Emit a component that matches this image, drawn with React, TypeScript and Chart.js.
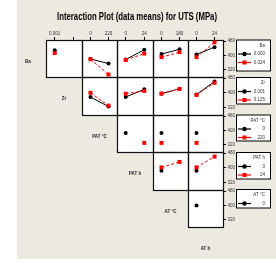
import React, { useEffect, useRef } from "react";
import { Chart, registerables } from "chart.js";
Chart.register(...registerables);

// ---------- data ----------
const chartTitle = "Interaction Plot (data means) for UTS (MPa)";
const rowLabels = ["Ba", "Zr", "PAT °C", "PAT h", "AT °C", "AT h"];
const legendTitles = ["Ba", "Zr", "PAT °C", "PAT h", "AT °C"];
const legendLevels = [["0.000", "0.024"], ["0.001", "0.125"], ["0", "220"], ["0", "24"], ["0"]];
// x tick labels for columns (Zr, PAT °C, PAT h, AT °C, AT h)
const xTickLabels = [["0.001", ""], ["0", "220"], ["0", "24"], ["0", "180"], ["0", "24"]];
const yTicks = [320, 400, 480];

// row Ba (black = 0.000, red = 0.024)
const baZrBlack = [428, null];
const baZrRed = [413, null];
const baPatcBlack = [380, 354];
const baPatcRed = [378, 293];
const baPathBlack = [377, 431];
const baPathRed = [374, 410];
const baAtcBlack = [407, 434];
const baAtcRed = [390, 418];
const baAthBlack = [405, 446];
const baAthRed = [390, 473];
// row Zr (black = 0.001, red = 0.125)
const zrPatcBlack = [377, 325];
const zrPatcRed = [400, 330];
const zrPathBlack = [377, 419];
const zrPathRed = [395, 410];
const zrAtcBlack = [395, 422];
const zrAtcRed = [396, 421];
const zrAthBlack = [391, 461];
const zrAthRed = [388, 454];
// row PAT °C (black = 0, red = 220)
const patcPathBlack = [385, null];
const patcPathRed = [null, 330];
const patcAtcBlack = [385, null];
const patcAtcRed = [330, null];
const patcAthBlack = [385, null];
const patcAthRed = [330, null];
// row PAT h (black = 0, red = 24)
const pathAtcBlack = [384, null];
const pathAtcRed = [402, 432];
const pathAthBlack = [384, null];
const pathAthRed = [402, 461];
// row AT °C (black = 0)
const atcAthBlack = [399, null];
const atcAthRed: (number | null)[] = [null, null];

const cellSeries: { r: number; c: number; black: (number | null)[]; red: (number | null)[] }[] = [
  { r: 0, c: 0, black: baZrBlack, red: baZrRed },
  { r: 0, c: 1, black: baPatcBlack, red: baPatcRed },
  { r: 0, c: 2, black: baPathBlack, red: baPathRed },
  { r: 0, c: 3, black: baAtcBlack, red: baAtcRed },
  { r: 0, c: 4, black: baAthBlack, red: baAthRed },
  { r: 1, c: 1, black: zrPatcBlack, red: zrPatcRed },
  { r: 1, c: 2, black: zrPathBlack, red: zrPathRed },
  { r: 1, c: 3, black: zrAtcBlack, red: zrAtcRed },
  { r: 1, c: 4, black: zrAthBlack, red: zrAthRed },
  { r: 2, c: 2, black: patcPathBlack, red: patcPathRed },
  { r: 2, c: 3, black: patcAtcBlack, red: patcAtcRed },
  { r: 2, c: 4, black: patcAthBlack, red: patcAthRed },
  { r: 3, c: 3, black: pathAtcBlack, red: pathAtcRed },
  { r: 3, c: 4, black: pathAthBlack, red: pathAthRed },
  { r: 4, c: 4, black: atcAthBlack, red: atcAthRed },
];

// ---------- layout ----------
const W = 276;
const H = 267;
const BG = "#ece9e0";
const colX = [46, 82, 117, 153, 188, 223];
const rowY = [40, 77, 115, 152, 190, 227];
const Y_MIN = 279;
const Y_MAX = 486;
const X_MIN = -0.47;
const X_MAX = 1.47;
const TOP_AXIS = 12;
const RIGHT_AXIS = 14;
const VPAD = 5;
const FONT = '"Liberation Sans", Arial, sans-serif';

const toPts = (arr: (number | null)[]) =>
  arr.map((v, i) => (v === null ? null : { x: i, y: v })).filter((p) => p !== null) as { x: number; y: number }[];

function Cell({ r, c, black, red }: { r: number; c: number; black: (number | null)[]; red: (number | null)[] }) {
  const ref = useRef<HTMLCanvasElement>(null);
  const isTop = r === 0;
  const isRight = c === 4;
  const x0 = colX[c];
  const x1 = colX[c + 1];
  const y0 = rowY[r];
  const y1 = rowY[r + 1];
  const extraTop = isTop ? TOP_AXIS : isRight ? VPAD : 0;
  const extraBottom = isRight ? VPAD : 0;
  const extraRight = isRight ? RIGHT_AXIS : 0;
  const cw = x1 - x0 + extraRight;
  const ch = y1 - y0 + extraTop + extraBottom;

  useEffect(() => {
    const canvas = ref.current!;
    const labels = xTickLabels[c];
    const chart = new Chart(canvas, {
      type: "line",
      data: {
        datasets: [
          {
            data: toPts(red),
            borderColor: "#ff0000",
            backgroundColor: "#ff0000",
            borderWidth: 1,
            borderDash: [3, 2],
            pointStyle: "rect",
            pointRadius: 2.8,
            pointBorderWidth: 0,
            spanGaps: false,
          },
          {
            data: toPts(black),
            borderColor: "#000000",
            backgroundColor: "#000000",
            borderWidth: 1,
            pointStyle: "circle",
            pointRadius: 2,
            pointBorderWidth: 0,
            spanGaps: false,
          },
        ],
      },
      options: {
        responsive: false,
        animation: false,
        events: [],
        layout: {
          autoPadding: false,
          padding: { top: isTop ? 0 : extraTop, bottom: extraBottom, left: 0, right: 0 },
        },
        plugins: { legend: { display: false }, tooltip: { enabled: false }, title: { display: false } },
        scales: {
          x: {
            type: "linear",
            position: "top",
            display: isTop,
            min: X_MIN,
            max: X_MAX,
            afterBuildTicks: (s: any) => {
              s.ticks = [{ value: 0 }, { value: 1 }];
            },
            afterFit: (s: any) => {
              if (isTop) s.height = TOP_AXIS;
            },
            ticks: {
              callback: (v: any) => labels[v as number] ?? "",
              font: { size: 4.5, family: FONT },
              color: "#333",
              padding: 1,
              maxRotation: 0,
              autoSkip: false,
            },
            grid: { drawOnChartArea: false, drawTicks: true, tickLength: 3, color: "#000", lineWidth: 1 },
            border: { display: false },
          },
          y: {
            type: "linear",
            position: "right",
            display: isRight,
            min: Y_MIN,
            max: Y_MAX,
            afterBuildTicks: (s: any) => {
              s.ticks = yTicks.map((v) => ({ value: v }));
            },
            afterFit: (s: any) => {
              if (isRight) s.width = RIGHT_AXIS;
            },
            ticks: {
              font: { size: 4.5, family: FONT },
              color: "#333",
              padding: 1.5,
              autoSkip: false,
            },
            grid: { drawOnChartArea: false, drawTicks: true, tickLength: 3, color: "#000", lineWidth: 1 },
            border: { display: false },
          },
        },
      },
    });
    return () => chart.destroy();
  }, []);

  return (
    <canvas
      ref={ref}
      width={cw}
      height={ch}
      style={{ position: "absolute", left: x0, top: y0 - extraTop, width: cw, height: ch }}
    />
  );
}

function Background() {
  const ref = useRef<HTMLCanvasElement>(null);
  useEffect(() => {
    const ctx = ref.current!.getContext("2d")!;
    ctx.fillStyle = "#ffffff";
    ctx.fillRect(0, 0, W, H);
    ctx.fillStyle = BG;
    ctx.fillRect(17, 0, W - 17, 259);

    // title (condensed to match the narrow face)
    ctx.fillStyle = "#000";
    ctx.font = `bold 10px ${FONT}`;
    ctx.textAlign = "left";
    ctx.textBaseline = "alphabetic";
    const tw = ctx.measureText(chartTitle).width;
    const target = 160;
    ctx.save();
    ctx.translate(137 - target / 2, 19.5);
    ctx.scale(target / tw, 1);
    ctx.fillText(chartTitle, 0, 0);
    ctx.restore();

    // cells
    for (let r = 0; r < 5; r++) {
      for (let c = r; c < 5; c++) {
        const x = colX[c], y = rowY[r];
        const w = colX[c + 1] - x, h = rowY[r + 1] - y;
        ctx.fillStyle = "#fff";
        ctx.fillRect(x, y, w, h);
      }
    }
    ctx.strokeStyle = "#111";
    ctx.lineWidth = 1.2;
    for (let r = 0; r < 5; r++) {
      for (let c = r; c < 5; c++) {
        const x = colX[c], y = rowY[r];
        const w = colX[c + 1] - x, h = rowY[r + 1] - y;
        ctx.strokeRect(x + 0.5, y + 0.5, w, h);
      }
    }

    // row labels (diagonal)
    ctx.fillStyle = "#222";
    ctx.font = `bold 4.5px ${FONT}`;
    ctx.textAlign = "center";
    ctx.textBaseline = "middle";
    for (let i = 0; i < rowLabels.length; i++) {
      const cx = i === 0 ? 28 : (colX[i - 1] + colX[i]) / 2;
      const top = i < 5 ? rowY[i] : rowY[5];
      const bottom = i < 5 ? rowY[i + 1] : rowY[5] + 37.5;
      ctx.fillText(rowLabels[i], cx, (top + bottom) / 2 + 3);
    }

    // legends
    const boxTop = [40, 77.5, 115, 152.5, 189.5];
    const boxBottom = [71, 104, 141, 179, 208];
    const bx0 = 236.5, bx1 = 270.5;
    for (let i = 0; i < 5; i++) {
      const t = boxTop[i];
      ctx.fillStyle = "#fff";
      ctx.fillRect(bx0, t, bx1 - bx0, boxBottom[i] - t);
      ctx.strokeStyle = "#000";
      ctx.lineWidth = 1;
      ctx.strokeRect(bx0, t, bx1 - bx0, boxBottom[i] - t);
      ctx.fillStyle = "#333";
      ctx.font = `4.5px ${FONT}`;
      ctx.textAlign = "right";
      ctx.textBaseline = "middle";
      ctx.fillText(legendTitles[i], 265, t + 5.5);
      legendLevels[i].forEach((lab, k) => {
        const y = t + 14 + k * 8.5;
        const col = k === 0 ? "#000" : "#ff0000";
        ctx.strokeStyle = col;
        ctx.lineWidth = 1.2;
        ctx.beginPath();
        ctx.moveTo(238, y);
        ctx.lineTo(251, y);
        ctx.stroke();
        ctx.fillStyle = col;
        if (k === 0) {
          ctx.beginPath();
          ctx.arc(244.5, y, 2.2, 0, Math.PI * 2);
          ctx.fill();
        } else {
          ctx.fillRect(242.5, y - 2, 4, 4);
        }
        ctx.fillStyle = "#333";
        ctx.fillText(lab, 265, y);
      });
    }
  }, []);
  return <canvas ref={ref} width={W} height={H} style={{ position: "absolute", left: 0, top: 0 }} />;
}

export default function App() {
  return (
    <div style={{ position: "fixed", left: 0, top: 0, width: W, height: H, overflow: "hidden", background: "#fff" }}>
      <Background />
      {cellSeries.map((s) => (
        <Cell key={`${s.r}-${s.c}`} r={s.r} c={s.c} black={s.black} red={s.red} />
      ))}
    </div>
  );
}
